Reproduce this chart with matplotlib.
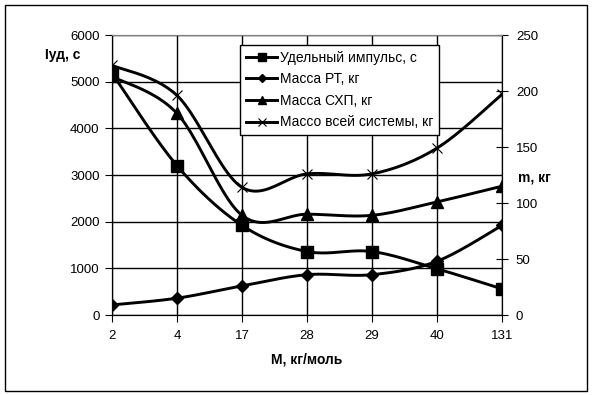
import numpy as np
import matplotlib
matplotlib.use('Agg')
import matplotlib.pyplot as plt

# data
categories = ['2', '4', '17', '28', '29', '40', '131']
impulse = [5180, 3200, 1920, 1360, 1360, 990, 560]       # left axis, s
mass_rt = [9, 15, 26, 36, 36, 48, 80]                     # right axis, kg
mass_shp = [213, 180, 89, 90, 89, 101, 115]               # right axis, kg
mass_total = [223, 196, 114, 126, 126, 149, 197]          # right axis, kg

labels = ['Удельный импульс, с', 'Масса РТ, кг', 'Масса СХП, кг',
          'Массо всей системы, кг']

plt.rcParams['font.family'] = ['Liberation Sans', 'DejaVu Sans']


def smooth(y, n=24):
    # excel-like smoothed line (bezier through the points)
    x = np.arange(len(y), dtype=float)
    p = np.column_stack([x, np.asarray(y, dtype=float)])
    t = np.linspace(0, 1, n)[:, None]
    out = []
    for i in range(len(p) - 1):
        p0 = p[max(i - 1, 0)]
        p1 = p[i]
        p2 = p[i + 1]
        p3 = p[min(i + 2, len(p) - 1)]
        c1 = p1 + (p2 - p0) / 6
        c2 = p2 - (p3 - p1) / 6
        seg = ((1 - t) ** 3 * p1 + 3 * (1 - t) ** 2 * t * c1
               + 3 * (1 - t) * t ** 2 * c2 + t ** 3 * p2)
        out.append(seg if i == 0 else seg[1:])
    out = np.vstack(out)
    return out[:, 0], out[:, 1]


W, H = 596, 395
fig = plt.figure(figsize=(W / 100, H / 100), dpi=100)
# outer frame
fig.patches.append(plt.Rectangle((5 / W, 1 - 391 / H), 582 / W, 386 / H,
                                 transform=fig.transFigure, fill=False,
                                 edgecolor='black', linewidth=1))

ax = fig.add_axes([112 / W, 1 - 315 / H, 390 / W, 280 / H])
ax2 = ax.twinx()

lineW = 2.1
xs = np.arange(len(categories))

sx, sy = smooth(impulse)
ax.plot(sx, sy, color='k', linewidth=lineW)
ax.plot(xs, impulse, 's', color='k', markersize=8)

for vals, mk, ms, mew in [(mass_rt, 'D', 6, 1), (mass_shp, '^', 8, 1), (mass_total, 'x', 7.5, 0.8)]:
    sx, sy = smooth(vals)
    ax2.plot(sx, sy, color='k', linewidth=lineW)
    ax2.plot(xs, vals, mk, color='k', markersize=ms, markeredgewidth=mew)

ax.set_xlim(0, 6)
ax.set_ylim(0, 6000)
ax2.set_ylim(0, 250)
ax.set_xticks(xs)
ax.set_xticklabels(categories)
ax.set_yticks([1000 * i for i in range(7)])
ax2.set_yticks([50 * i for i in range(6)])

ax.grid(True, color='k', linewidth=1)
ax.set_axisbelow(True)
for a in (ax, ax2):
    a.spines['top'].set_color('#808080')
    a.spines['left'].set_color('k')
    a.spines['right'].set_color('k')
    a.spines['bottom'].set_color('k')
    a.tick_params(labelsize=9.5)

ax.tick_params(axis='y', direction='out', length=5, pad=4)
ax.tick_params(axis='x', direction='out', length=5, pad=6)
ax2.tick_params(axis='y', direction='inout', length=8, pad=6)

fig.text(45 / W, 1 - 55 / H, 'Iуд, с', fontsize=10, fontweight='bold', va='center')
fig.text(518 / W, 1 - 178 / H, 'm, кг', fontsize=10, fontweight='bold', va='center')
fig.text(307 / W, 1 - 359 / H, 'M, кг/моль', fontsize=10, fontweight='bold',
         va='center', ha='center')

handles = [
    plt.Line2D([], [], color='k', linewidth=lineW, marker='s', markersize=6),
    plt.Line2D([], [], color='k', linewidth=lineW, marker='D', markersize=4.5),
    plt.Line2D([], [], color='k', linewidth=lineW, marker='^', markersize=6),
    plt.Line2D([], [], color='k', linewidth=lineW, marker='x', markersize=6,
               markeredgewidth=0.8),
]
leg = ax2.legend(handles, labels, loc='upper left',
                 bbox_to_anchor=(240 / W, 1 - 45 / H), bbox_transform=fig.transFigure,
                 fontsize=10, frameon=True, fancybox=False, framealpha=1,
                 edgecolor='k', handlelength=2.3, handletextpad=0.15,
                 labelspacing=0.55, borderpad=0.4, borderaxespad=0)
leg.get_frame().set_linewidth(1)

fig.savefig('out.png', dpi=100)
